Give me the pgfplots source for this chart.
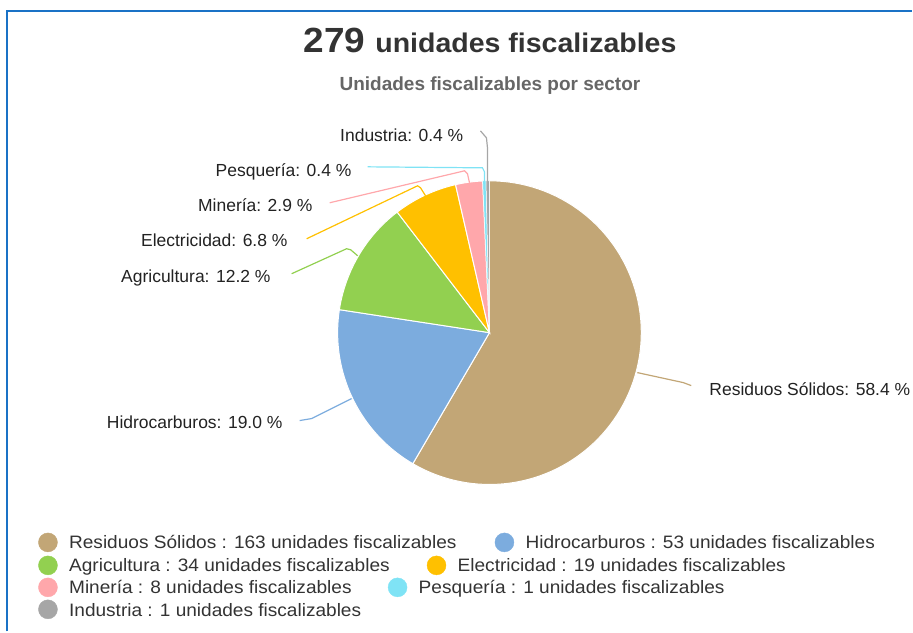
\documentclass[border=0pt]{standalone}
\usepackage{pgfplots}
\pgfplotsset{compat=1.18}
\usepackage{fontspec}
\setmainfont{Liberation Sans}
\usepackage{graphicx}

\definecolor{cRS}{HTML}{C2A676}
\definecolor{cHC}{HTML}{7CACDE}
\definecolor{cAG}{HTML}{92D050}
\definecolor{cEL}{HTML}{FFC000}
\definecolor{cMI}{HTML}{FFA7AB}
\definecolor{cPE}{HTML}{7FE3F5}
\definecolor{cIN}{HTML}{A6A6A6}
\definecolor{cBorder}{HTML}{1A72C6}
\definecolor{cTitle}{HTML}{333333}
\definecolor{cSub}{HTML}{666666}
\definecolor{cLab}{HTML}{222222}

% data: units per sector
\def\vRS{163}\def\vHC{53}\def\vAG{34}\def\vEL{19}\def\vMI{8}\def\vPE{1}\def\vIN{1}
\pgfmathsetmacro\vTot{\vRS+\vHC+\vAG+\vEL+\vMI+\vPE+\vIN}
\pgfmathsetmacro\aA{\vRS/\vTot*360}
\pgfmathsetmacro\aB{\aA+\vHC/\vTot*360}
\pgfmathsetmacro\aC{\aB+\vAG/\vTot*360}
\pgfmathsetmacro\aD{\aC+\vEL/\vTot*360}
\pgfmathsetmacro\aE{\aD+\vMI/\vTot*360}
\pgfmathsetmacro\aF{\aE+\vPE/\vTot*360}
\pgfmathsetmacro\aG{\aF+\vIN/\vTot*360}

\newcommand\labfont{\fontsize{17.5}{20}\selectfont\color{cLab}}
\newcommand\legfont{\fontsize{18}{21}\selectfont\color{cTitle}}
\newcommand\legtext[1]{\scalebox{1.06}[1]{\legfont #1}}

\begin{document}
\begin{tikzpicture}
\begin{axis}[
  width=913pt, height=632pt, scale only axis,
  xmin=0, xmax=913, ymin=0, ymax=632, y dir=reverse,
  hide axis, clip=false,
]
% bounding frame (invisible)
\addplot[draw=none] coordinates {(0,0) (913,632)};
% outer border (top and left)
\addplot[cBorder, line width=2pt] coordinates {(7,632) (7,11) (913,11)};

% pie slices (clockwise from 12 o'clock), centre (490,333), radius 152
\addplot[fill=cRS, draw=white, line width=1pt, domain=0:\aA, samples=90, variable=\t]
  ({490+152*sin(\t)}, {333-152*cos(\t)}) -- (axis cs:490,333) -- cycle;
\addplot[fill=cHC, draw=white, line width=1pt, domain=\aA:\aB, samples=40, variable=\t]
  ({490+152*sin(\t)}, {333-152*cos(\t)}) -- (axis cs:490,333) -- cycle;
\addplot[fill=cAG, draw=white, line width=1pt, domain=\aB:\aC, samples=30, variable=\t]
  ({490+152*sin(\t)}, {333-152*cos(\t)}) -- (axis cs:490,333) -- cycle;
\addplot[fill=cEL, draw=white, line width=1pt, domain=\aC:\aD, samples=20, variable=\t]
  ({490+152*sin(\t)}, {333-152*cos(\t)}) -- (axis cs:490,333) -- cycle;
\addplot[fill=cMI, draw=white, line width=1pt, domain=\aD:\aE, samples=10, variable=\t]
  ({490+152*sin(\t)}, {333-152*cos(\t)}) -- (axis cs:490,333) -- cycle;
\addplot[fill=cPE, draw=white, line width=0.5pt, domain=\aE:\aF, samples=5, variable=\t]
  ({490+152*sin(\t)}, {333-152*cos(\t)}) -- (axis cs:490,333) -- cycle;
\addplot[fill=cIN, draw=white, line width=0.5pt, domain=\aF:\aG, samples=5, variable=\t]
  ({490+152*sin(\t)}, {333-152*cos(\t)}) -- (axis cs:490,333) -- cycle;

% connectors
\addplot[cRS, line width=1.2pt] coordinates {(692,386) (684,383) (638,373)};
\addplot[cHC, line width=1.2pt] coordinates {(300,421) (312,419) (352,399)};
\addplot[cAG, line width=1.2pt] coordinates {(292,274) (347,249) (351,250) (358,256)};
\addplot[cEL, line width=1.2pt] coordinates {(307,239) (418,186) (421,188) (426,196)};
\addplot[cMI, line width=1.2pt] coordinates {(330,203) (465,171) (468,174) (470,183)};
\addplot[cPE, line width=1.2pt] coordinates {(368,167) (483,168) (485,172) (485,182)};
\addplot[cIN, line width=1.2pt] coordinates {(481,131) (487,138) (488,148) (488,182)};

% data labels
\node[anchor=base west, inner sep=0pt] at (axis cs:710,396) {\labfont Residuos Sólidos: 58.4 \%};
\node[anchor=base east, inner sep=0pt] at (axis cs:283,429) {\labfont Hidrocarburos: 19.0 \%};
\node[anchor=base east, inner sep=0pt] at (axis cs:271,283) {\labfont Agricultura: 12.2 \%};
\node[anchor=base east, inner sep=0pt] at (axis cs:288,247) {\labfont Electricidad: 6.8 \%};
\node[anchor=base east, inner sep=0pt] at (axis cs:313,212) {\labfont Minería: 2.9 \%};
\node[anchor=base east, inner sep=0pt] at (axis cs:352,177) {\labfont Pesquería: 0.4 \%};
\node[anchor=base east, inner sep=0pt] at (axis cs:464,142) {\labfont Industria: 0.4 \%};

% titles
\node[anchor=base, inner sep=0pt, text=cTitle] at (axis cs:490.5,53)
  {\bfseries\scalebox{1.057}[1]{\fontsize{35}{40}\selectfont 279 \fontsize{27}{32}\selectfont unidades fiscalizables}};
\node[anchor=base, inner sep=0pt, text=cSub] at (axis cs:490.5,91)
  {\bfseries\fontsize{19}{22}\selectfont Unidades fiscalizables por sector};

% legend markers
\addplot[only marks, mark=*, mark size=9.5pt, color=cRS] coordinates {(48,543)};
\addplot[only marks, mark=*, mark size=9.5pt, color=cHC] coordinates {(505,543)};
\addplot[only marks, mark=*, mark size=9.5pt, color=cAG] coordinates {(48,566)};
\addplot[only marks, mark=*, mark size=9.5pt, color=cEL] coordinates {(437,566)};
\addplot[only marks, mark=*, mark size=9.5pt, color=cMI] coordinates {(48,588)};
\addplot[only marks, mark=*, mark size=9.5pt, color=cPE] coordinates {(398,588)};
\addplot[only marks, mark=*, mark size=9.5pt, color=cIN] coordinates {(48,610)};

% legend texts
\node[anchor=base west, inner sep=0pt] at (axis cs:69,549) {\legtext{Residuos Sólidos : 163 unidades fiscalizables}};
\node[anchor=base west, inner sep=0pt] at (axis cs:526,549) {\legtext{Hidrocarburos : 53 unidades fiscalizables}};
\node[anchor=base west, inner sep=0pt] at (axis cs:69,572) {\legtext{Agricultura : 34 unidades fiscalizables}};
\node[anchor=base west, inner sep=0pt] at (axis cs:458,572) {\legtext{Electricidad : 19 unidades fiscalizables}};
\node[anchor=base west, inner sep=0pt] at (axis cs:69,594) {\legtext{Minería : 8 unidades fiscalizables}};
\node[anchor=base west, inner sep=0pt] at (axis cs:419,594) {\legtext{Pesquería : 1 unidades fiscalizables}};
\node[anchor=base west, inner sep=0pt] at (axis cs:69,617) {\legtext{Industria : 1 unidades fiscalizables}};
\end{axis}
\end{tikzpicture}
\end{document}
